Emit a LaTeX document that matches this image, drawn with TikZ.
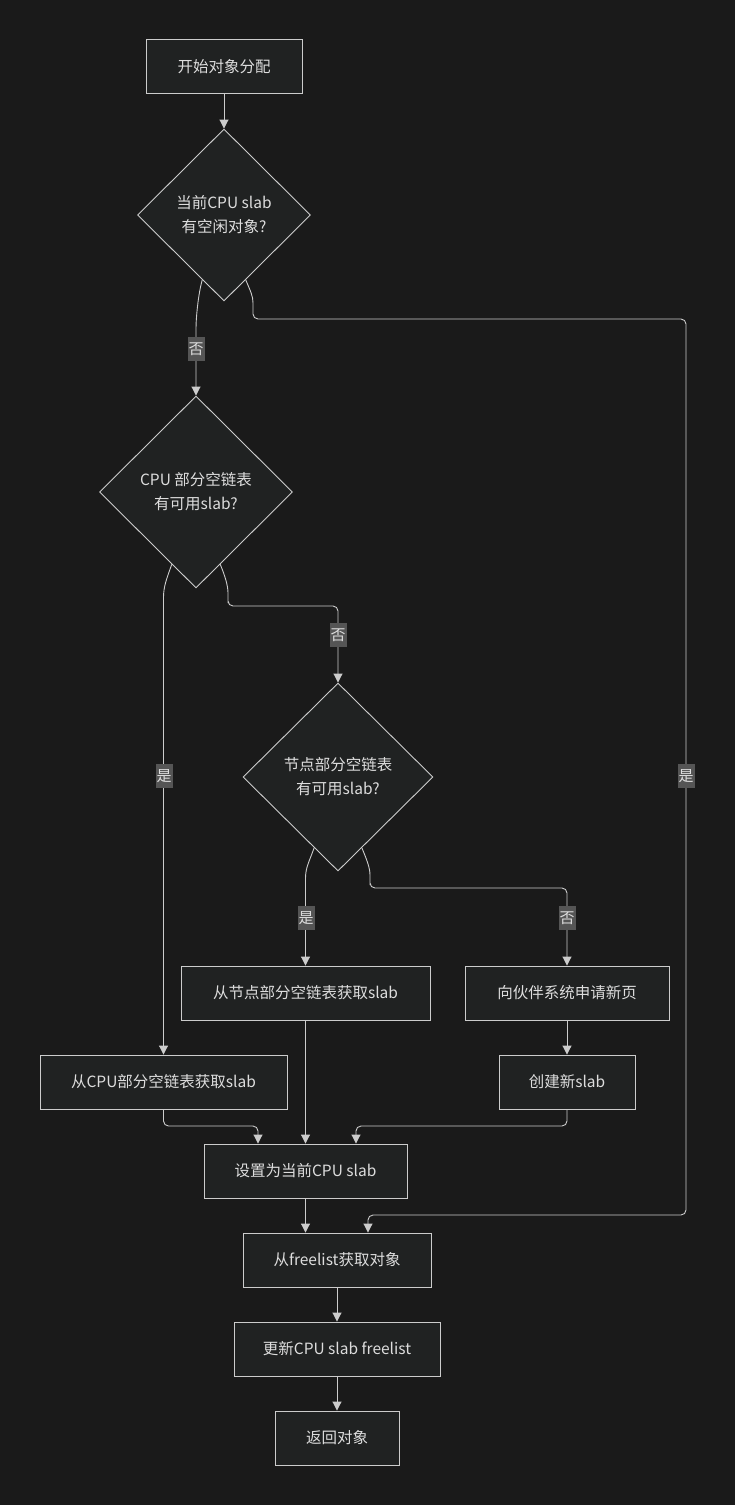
\documentclass[tikz,border=0pt]{standalone}
\usepackage{fontspec}
\setmainfont{Noto Sans CJK SC}
\usetikzlibrary{shapes.geometric,arrows.meta,calc}
\definecolor{bg}{HTML}{1A1A1A}
\definecolor{nfill}{HTML}{202222}
\definecolor{nline}{HTML}{CCCCCC}
\definecolor{ntext}{HTML}{DDDDDD}
\definecolor{lblbg}{HTML}{555555}
\tikzset{
  box/.style={draw=nline, fill=nfill, line width=0.9pt, minimum height=54pt, inner sep=0pt, text=ntext, font=\fontsize{15.5}{24}\selectfont},
  dia/.style={draw=nline, fill=nfill, line width=0.9pt, shape=diamond, inner sep=0pt, text=ntext, align=center, font=\fontsize{15.5}{24}\selectfont},
  arr/.style={draw=nline, line width=0.9pt, -{Triangle[width=9pt,length=9pt]}, rounded corners=5pt},
  lbl/.style={fill=lblbg, text=ntext, inner sep=1pt, minimum height=24pt, minimum width=17pt, font=\fontsize{15}{18}\selectfont}
}
\begin{document}
\begin{tikzpicture}[x=1pt,y=-1pt]
\fill[bg] (0,0) rectangle (735,1505);
\useasboundingbox (0,0) rectangle (735,1505);

\node[box, minimum width=156pt] (start) at (224,66.5) {开始对象分配};
\node[dia, minimum width=173pt, minimum height=172pt] (d1) at (224,215) {当前CPU slab\\有空闲对象?};
\node[dia, minimum width=193pt, minimum height=192pt] (d2) at (196,492) {CPU 部分空链表\\有可用slab?};
\node[dia, minimum width=190pt, minimum height=188pt] (d3) at (338,777) {节点部分空链表\\有可用slab?};
\node[box, minimum width=249pt] (np) at (305.5,993) {从节点部分空链表获取slab};
\node[box, minimum width=204pt] (bud) at (567,993) {向伙伴系统申请新页};
\node[box, minimum width=247pt] (cpu) at (163.5,1082) {从CPU部分空链表获取slab};
\node[box, minimum width=136pt] (cre) at (567,1082) {创建新slab};
\node[box, minimum width=203pt] (set) at (305.5,1171) {设置为当前CPU slab};
\node[box, minimum width=188pt] (fl) at (337,1260) {从freelist获取对象};
\node[box, minimum width=206pt] (upd) at (337,1349) {更新CPU slab freelist};
\node[box, minimum width=124pt] (ret) at (337,1438) {返回对象};

% edges
\draw[arr] (start.south) -- (d1.north);
\draw[arr] ($(d1.south west)!0.5!(d1.south)$) .. controls +(-4,14) and +(0,-16) .. ($(d2.north)+(0,-62)$) -- (d2.north);
\draw[arr] ($(d1.south east)!0.5!(d1.south)$) .. controls +(5,12) and +(0,-12) .. (253,308) |- (686,319) -- (686,1215) -| ($(fl.north)+(31,0)$);
\draw[arr] ($(d2.south west)!0.5!(d2.south)$) .. controls +(-5,14) and +(0,-16) .. ($(cpu.north |- d2.south)+(0,14)$) -- (cpu.north);
\draw[arr] ($(d2.south east)!0.5!(d2.south)$) .. controls +(5,12) and +(0,-12) .. (228,598) |- (338,606) -- (d3.north);
\draw[arr] ($(d3.south west)!0.5!(d3.south)$) .. controls +(-5,14) and +(0,-16) .. ($(np.north |- d3.south)+(0,12)$) -- (np.north);
\draw[arr] ($(d3.south east)!0.5!(d3.south)$) .. controls +(5,12) and +(0,-12) .. (370,880) |- (567,888) -- (bud.north);
\draw[arr] (bud.south) -- (cre.north);
\draw[arr] (cpu.south) |- (200,1126) -| ($(set.north)+(-47.5,0)$);
\draw[arr] (np.south) -- (set.north);
\draw[arr] (cre.south) |- (400,1126) -| ($(set.north)+(50.5,0)$);
\draw[arr] (set.south) -- (set.south |- fl.north);
\draw[arr] (fl.south) -- (upd.north);
\draw[arr] (upd.south) -- (ret.north);

% labels
\node[lbl] (l1) at (196,349) {否};
\node[lbl] (l2) at (686,776) {是};
\node[lbl] (l3) at (164,776) {是};
\node[lbl] (l4) at (338,635) {否};
\node[lbl] (l5) at (306,918) {是};
\node[lbl] (l6) at (567,918) {否};
\end{tikzpicture}
\end{document}
